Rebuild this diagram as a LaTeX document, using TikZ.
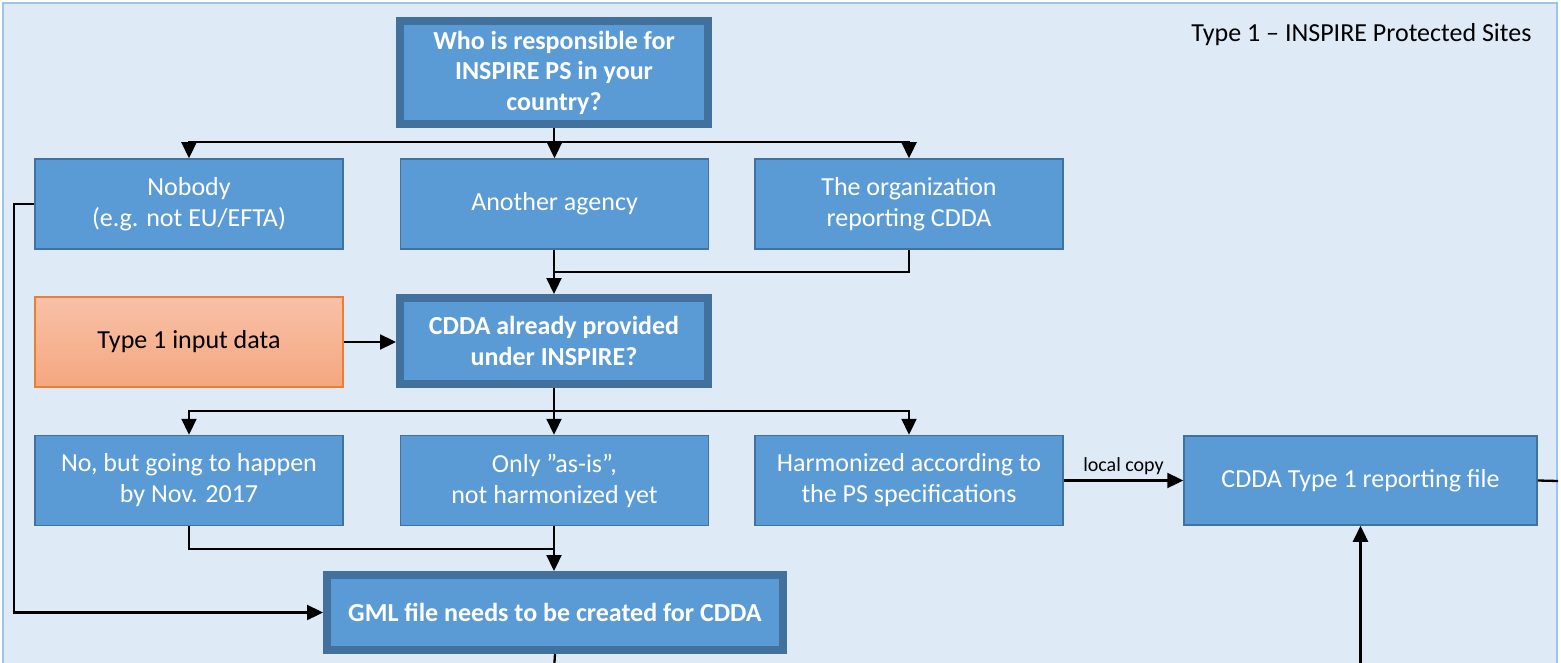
\documentclass[tikz,border=0pt]{standalone}
\usepackage{fontspec}
\setmainfont{Carlito}
\usetikzlibrary{arrows.meta}
\definecolor{bgfill}{HTML}{DEEBF7}
\definecolor{bgline}{HTML}{9DC3E6}
\definecolor{boxfill}{HTML}{5B9BD5}
\definecolor{boxline}{HTML}{41719C}
\definecolor{orgtop}{HTML}{F8C1A8}
\definecolor{orgbot}{HTML}{F4A77F}
\definecolor{orgline}{HTML}{ED7D31}
\tikzset{
  basebox/.style={inner sep=0pt, align=center, text=white,
    font=\fontsize{26}{31}\selectfont},
  thinbox/.style={basebox, draw=boxline, fill=boxfill, line width=1.5pt,
    minimum width=308pt, minimum height=90pt},
  thickbox/.style={basebox, draw=boxline, fill=boxfill, line width=8pt,
    font=\fontsize{26}{30.5}\selectfont\bfseries},
  inbox/.style={basebox, draw=orgline, top color=orgtop, bottom color=orgbot,
    line width=1.5pt, text=black, minimum width=308pt, minimum height=90pt},
  conn/.style={draw=black, line width=2.3pt},
  arr/.style={conn, -{Triangle[width=15pt,length=16pt]}},
}
\begin{document}
\begin{tikzpicture}[x=1pt,y=-1pt]
\useasboundingbox (0,0) rectangle (1561,663);
\begin{scope}
\clip (0,0) rectangle (1561,663);
\fill[white] (0,0) rectangle (1561,663);
\draw[bgline, fill=bgfill, line width=2pt] (3,3) rectangle (1557,700);
\end{scope}

\node[anchor=base east, font=\fontsize{26}{31}\selectfont] (title) at (1535,42) {Type 1 – INSPIRE Protected Sites};

\node[thickbox, minimum width=308pt, minimum height=103pt] (who) at (554,72.5)
  {Who is responsible for\\INSPIRE PS in your\\country?};

\node[thinbox] (nobody) at (189,204) {Nobody\\(e.g. not EU/EFTA)};
\node[thinbox] (another) at (554.5,204) {Another agency};
\node[thinbox] (org) at (909,204) {The organization\\reporting CDDA};

\node[inbox] (input) at (189,342) {Type 1 input data};
\node[thickbox, minimum width=308pt, minimum height=86pt] (cdda) at (554,341)
  {CDDA already provided\\under INSPIRE?};

\node[thinbox] (no) at (189,480.5) {No, but going to happen\\by Nov. 2017};
\node[thinbox] (asis) at (554.5,480.5) {Only ”as-is”,\\not harmonized yet};
\node[thinbox] (harm) at (909,480.5) {Harmonized according to\\the PS specifications};

\node[thinbox, minimum width=353pt, minimum height=89pt] (report) at (1360.5,480.5)
  {CDDA Type 1 reporting file};

\node[thickbox, minimum width=456pt, minimum height=75pt] (gml) at (555,612.5)
  {GML file needs to be created for CDDA};

% fork 1
\coordinate (f1) at (554,142);
\draw[conn] (who.south) -- (f1);
\draw[arr] (f1) -| (nobody.north);
\draw[arr] (f1) -- (f1 -| another.north) -- (another.north);
\draw[arr] (f1) -| (org.north);

% merge 1
\coordinate (j1) at (554,272);
\draw[conn] (org.south) |- (j1);
\draw[arr] (another.south -| j1) -- (j1) -- (j1 |- cdda.north);

% input
\draw[arr] (input.east) -- (input.east -| cdda.west);

% nobody path
\draw[arr] (nobody.west) -- ++(-20,0) |- (gml.west);

% fork 2
\coordinate (f2) at (554,411);
\draw[conn] (cdda.south) -- (f2);
\draw[arr] (f2) -| (no.north);
\draw[arr] (f2) -- (f2 |- asis.north);
\draw[arr] (f2) -| (harm.north);

% merge 2
\coordinate (j2) at (554,549);
\draw[conn] (no.south) |- (j2);
\draw[arr] (asis.south -| j2) -- (j2) -- (j2 |- gml.north);

% local copy
\draw[arr] (harm.east) -- node[above=1pt, font=\fontsize{20}{23}\selectfont, text=black] (lc) {local copy} (harm.east -| report.west);

% free ends
\coordinate (rx) at (1558,481);
\draw[conn] (report.east) -- (rx);
\coordinate (rb) at (1360.5,670);
\draw[arr] (rb) -- (report.south);
\coordinate (gb) at (554,670);
\draw[conn] (gml.south) -- (gb);
\end{tikzpicture}
\end{document}
